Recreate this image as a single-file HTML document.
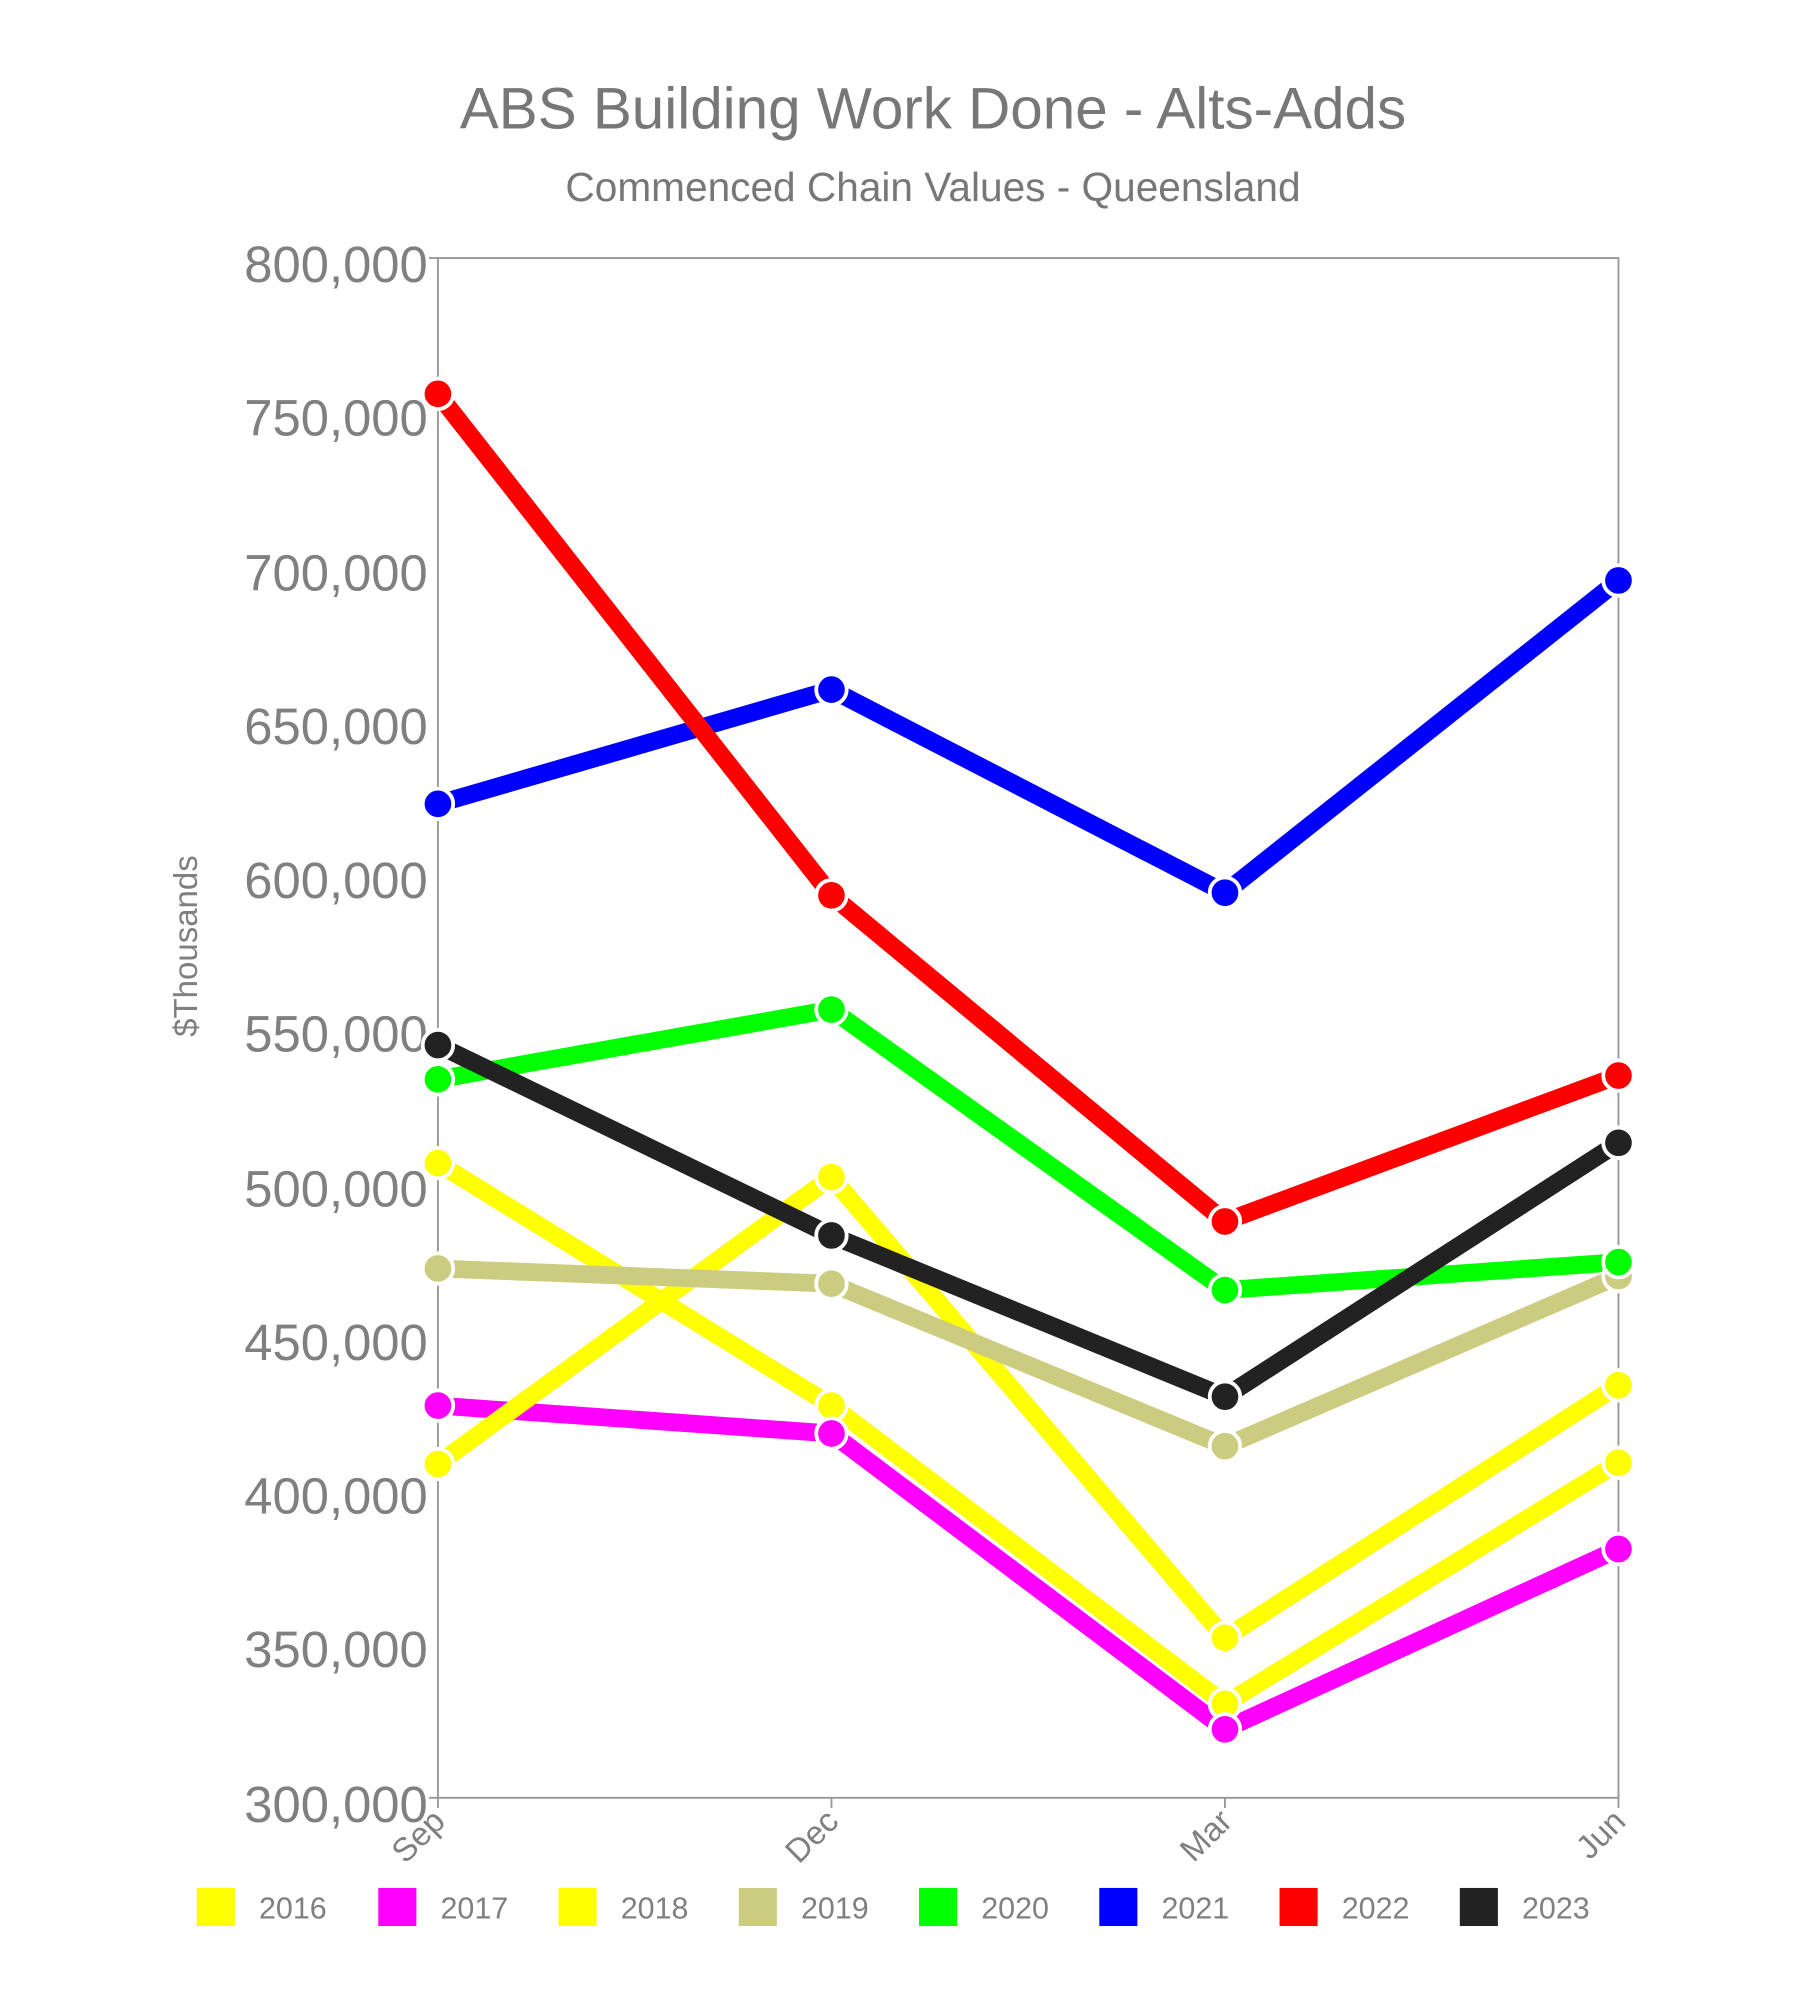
<!DOCTYPE html>
<html><head><meta charset="utf-8"><style>
html,body{margin:0;padding:0;background:#fff;}
svg{display:block;font-family:"Liberation Sans",sans-serif;}
</style></head><body>
<svg width="1800" height="2000" viewBox="0 0 1418 1575" xmlns="http://www.w3.org/2000/svg">
<rect width="1418" height="1575" fill="#fff"/>
<text x="735" y="101" text-anchor="middle" font-size="46" fill="#777">ABS Building Work Done - Alts-Adds</text>
<text x="735" y="158" text-anchor="middle" font-size="32" fill="#777">Commenced Chain Values - Queensland</text>
<rect x="345" y="203" width="930" height="1213" fill="none" stroke="#999" stroke-width="1.5"/>
<g font-size="40" fill="#808080" text-anchor="end">
<text x="337" y="222">800,000</text>
<text x="337" y="343">750,000</text>
<text x="337" y="465">700,000</text>
<text x="337" y="586">650,000</text>
<text x="337" y="707">600,000</text>
<text x="337" y="828">550,000</text>
<text x="337" y="950">500,000</text>
<text x="337" y="1071">450,000</text>
<text x="337" y="1192">400,000</text>
<text x="337" y="1313">350,000</text>
<text x="337" y="1435">300,000</text>
</g>
<g stroke="#999" stroke-width="1.5">
<line x1="338" y1="203" x2="345" y2="203"/><line x1="338" y1="1416" x2="345" y2="1416"/>
<line x1="345" y1="1416" x2="345" y2="1424"/><line x1="655" y1="1416" x2="655" y2="1424"/>
<line x1="965" y1="1416" x2="965" y2="1424"/><line x1="1275" y1="1416" x2="1275" y2="1424"/>
</g>
<text transform="translate(155,745) rotate(-90)" text-anchor="middle" font-size="26" fill="#808080">$Thousands</text>
<g font-size="26" fill="#808080" text-anchor="end">
<text transform="translate(352,1436) rotate(-45)">Sep</text>
<text transform="translate(662,1436) rotate(-45)">Dec</text>
<text transform="translate(972,1436) rotate(-45)">Mar</text>
<text transform="translate(1282,1436) rotate(-45)">Jun</text>
</g>
<g fill="none" stroke-width="14" stroke-linejoin="round">
<polyline stroke="#ffff00" points="345,916 655,1107 965,1342 1275,1152"/>
<polyline stroke="#ff00ff" points="345,1107 655,1129 965,1362 1275,1220"/>
<polyline stroke="#ffff00" points="345,1153 655,927 965,1290 1275,1091"/>
<polyline stroke="#cccc80" points="345,999 655,1011 965,1139 1275,1005"/>
<polyline stroke="#00ff00" points="345,850 655,795 965,1016 1275,994"/>
<polyline stroke="#0000ff" points="345,633 655,543 965,703 1275,457"/>
<polyline stroke="#ff0000" points="345,310 655,705 965,962 1275,847"/>
<polyline stroke="#222222" points="345,823 655,973 965,1100 1275,900"/>
</g>
<g stroke="#fff" stroke-width="3">
<g fill="#ffff00"><circle cx="345" cy="916" r="12"/><circle cx="655" cy="1107" r="12"/><circle cx="965" cy="1342" r="12"/><circle cx="1275" cy="1152" r="12"/></g>
<g fill="#ff00ff"><circle cx="345" cy="1107" r="12"/><circle cx="655" cy="1129" r="12"/><circle cx="965" cy="1362" r="12"/><circle cx="1275" cy="1220" r="12"/></g>
<g fill="#ffff00"><circle cx="345" cy="1153" r="12"/><circle cx="655" cy="927" r="12"/><circle cx="965" cy="1290" r="12"/><circle cx="1275" cy="1091" r="12"/></g>
<g fill="#cccc80"><circle cx="345" cy="999" r="12"/><circle cx="655" cy="1011" r="12"/><circle cx="965" cy="1139" r="12"/><circle cx="1275" cy="1005" r="12"/></g>
<g fill="#00ff00"><circle cx="345" cy="850" r="12"/><circle cx="655" cy="795" r="12"/><circle cx="965" cy="1016" r="12"/><circle cx="1275" cy="994" r="12"/></g>
<g fill="#0000ff"><circle cx="345" cy="633" r="12"/><circle cx="655" cy="543" r="12"/><circle cx="965" cy="703" r="12"/><circle cx="1275" cy="457" r="12"/></g>
<g fill="#ff0000"><circle cx="345" cy="310" r="12"/><circle cx="655" cy="705" r="12"/><circle cx="965" cy="962" r="12"/><circle cx="1275" cy="847" r="12"/></g>
<g fill="#222222"><circle cx="345" cy="823" r="12"/><circle cx="655" cy="973" r="12"/><circle cx="965" cy="1100" r="12"/><circle cx="1275" cy="900" r="12"/></g>
</g>
<g font-size="24" fill="#808080">
<rect x="155" y="1487" width="30" height="30" fill="#ffff00"/><text x="204" y="1511">2016</text>
<rect x="298" y="1487" width="30" height="30" fill="#ff00ff"/><text x="347" y="1511">2017</text>
<rect x="440" y="1487" width="30" height="30" fill="#ffff00"/><text x="489" y="1511">2018</text>
<rect x="582" y="1487" width="30" height="30" fill="#cccc80"/><text x="631" y="1511">2019</text>
<rect x="724" y="1487" width="30" height="30" fill="#00ff00"/><text x="773" y="1511">2020</text>
<rect x="866" y="1487" width="30" height="30" fill="#0000ff"/><text x="915" y="1511">2021</text>
<rect x="1008" y="1487" width="30" height="30" fill="#ff0000"/><text x="1057" y="1511">2022</text>
<rect x="1150" y="1487" width="30" height="30" fill="#222222"/><text x="1199" y="1511">2023</text>
</g>
</svg>
</body></html>
